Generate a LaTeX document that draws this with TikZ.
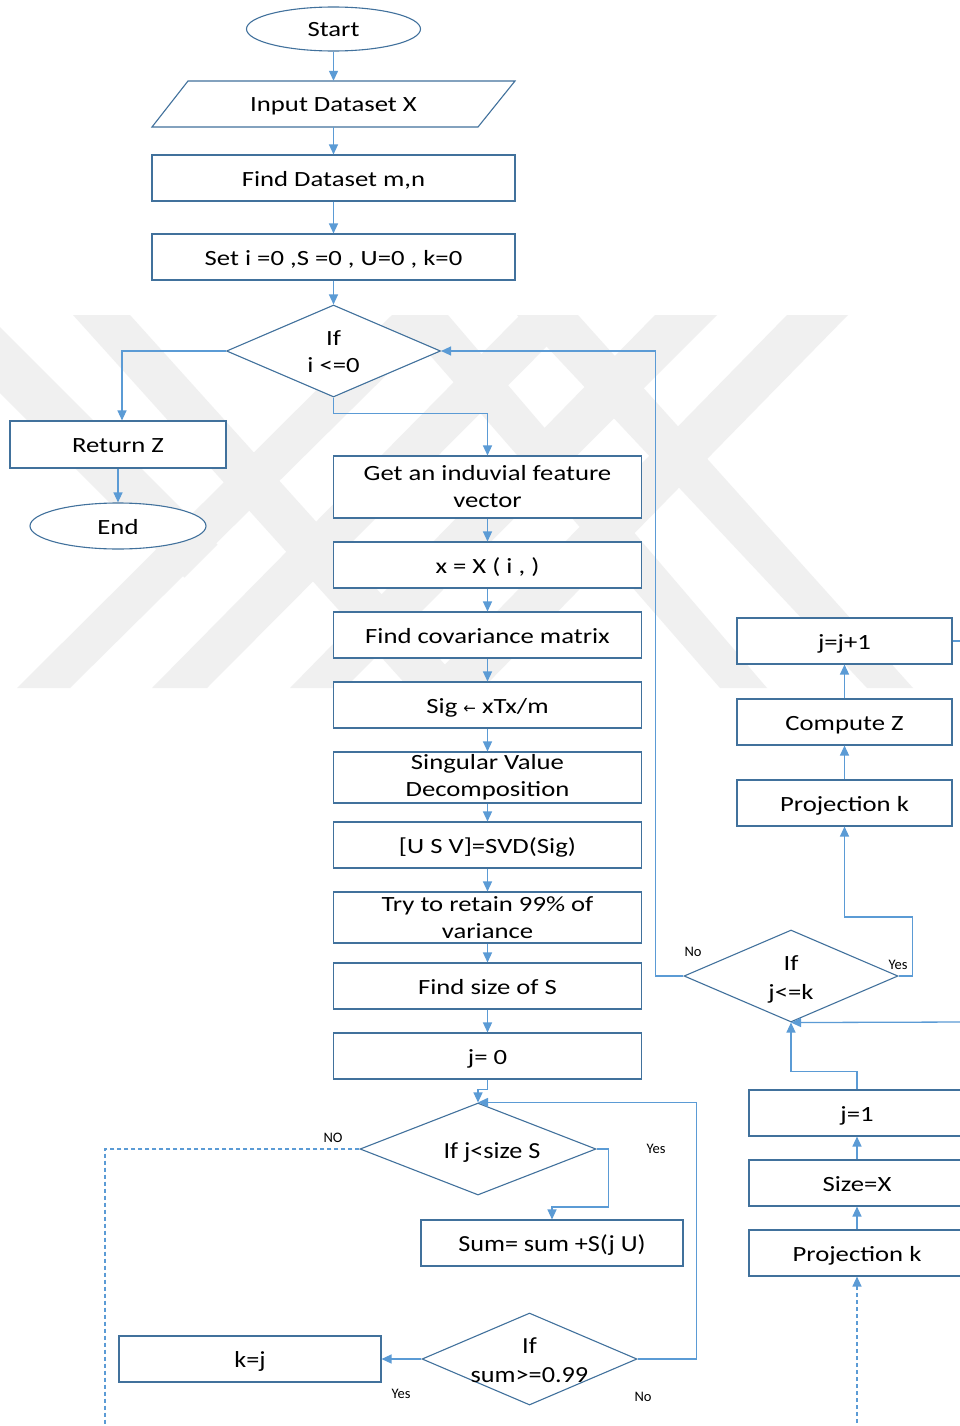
\documentclass[tikz,border=0pt]{standalone}
\usepackage{fontspec}
\setmainfont[FakeStretch=1.23]{Carlito}
\newfontfamily\lowfont[FakeStretch=1.14]{Carlito}
\newfontfamily\tagfont{Carlito}
\newfontfamily\symfont{DejaVu Sans}
\usetikzlibrary{shapes.geometric,arrows.meta}

\definecolor{edgeblue}{HTML}{41719C}
\definecolor{linkblue}{HTML}{5B9BD5}
\definecolor{markgrey}{HTML}{F0F0F0}

\begin{document}
\begin{tikzpicture}[x=1pt,y=-1pt,
  box/.style={draw=edgeblue, fill=white, line width=1.1pt, rectangle, inner sep=0pt,
              align=center, font=\fontsize{21.7}{27}\selectfont},
  oneline/.style={text height=18pt, text depth=2pt},
  lowbox/.style={box, font=\lowfont\fontsize{23}{28}\selectfont},
  term/.style={box, ellipse},
  test/.style={draw=edgeblue, fill=white, line width=1.1pt, diamond, inner sep=0pt},
  testtext/.style={align=center, font=\fontsize{21.7}{27}\selectfont},
  lowtext/.style={align=center, font=\lowfont\fontsize{23}{29}\selectfont},
  link/.style={draw=linkblue, line width=1.3pt, -{Triangle[length=10pt,width=9pt]}},
  plain/.style={draw=linkblue, line width=1.3pt},
  dashlink/.style={link, dash pattern=on 4pt off 3pt},
  tag/.style={font=\tagfont\fontsize{14.5}{14.5}\selectfont, inner sep=0pt},
]
\useasboundingbox (0,0) rectangle (960,1426);
\fill[white] (0,0) rectangle (960,1426);

% background emblem: diagonal grey stripes
\begin{scope}[markgrey]
  \fill (-78,315) -- (-12,315) -- (217.5,544.5) -- (184.5,577.5) -- cycle;
  \fill (73,315) -- (130,315) -- (466,688) -- (409,688) -- cycle;
  \fill (392,315) -- (447,315) -- (70,688) -- (17,688) -- cycle;
  \fill (395,315) -- (448,315) -- (767,688) -- (720,688) -- cycle;
  \fill (520,315) -- (578,315) -- (207,688) -- (152,688) -- cycle;
  \fill (517,315) -- (578,315) -- (913,688) -- (867,688) -- cycle;
  \fill (655,315) -- (717,315) -- (345,688) -- (290,688) -- cycle;
  \fill (787,315) -- (848,315) -- (483,688) -- (422,688) -- cycle;
\end{scope}

% ---- main column ----
\node[term, oneline, minimum width=174pt, minimum height=44pt] (start) at (333.5,29) {Start};

\draw[draw=edgeblue, fill=white, line width=1.1pt]
  (188,81) -- (515,81) -- (478,127) -- (152,127) -- cycle;
\node[inner sep=0pt, oneline, minimum width=300pt, minimum height=46pt,
      font=\fontsize{21.7}{27}\selectfont] (input) at (333.5,104) {Input Dataset X};

\node[box, oneline, minimum width=363pt, minimum height=46pt] (find) at (333.5,178) {Find Dataset m,n};
\node[box, oneline, minimum width=363pt, minimum height=46pt] (setv) at (333.5,257) {Set i =0 ,S =0 , U=0 , k=0};

\node[test, minimum width=214pt, minimum height=92pt] (testi) at (333.5,351) {};
\node[testtext] (testitext) at (333.5,352) {If\\i <=0};

\node[box, oneline, minimum width=216pt, minimum height=47pt] (retz) at (118,444.5) {Return Z};
\node[term, oneline, minimum width=176pt, minimum height=46pt] (endn) at (118,526) {End};

\node[box, minimum width=308pt, minimum height=62pt] (getv) at (487.5,487) {Get an induvial feature\\vector};
\node[box, oneline, minimum width=308pt, minimum height=46pt] (xrow) at (487.5,565) {x = X ( i , )};
\node[box, oneline, minimum width=308pt, minimum height=46pt] (cov) at (487.5,635) {Find covariance matrix};
\node[box, oneline, minimum width=308pt, minimum height=46pt] (sig) at (487.5,705)
  {Sig {\symfont\fontsize{15}{15}\selectfont ←} xTx/m};
\node[box, minimum width=308pt, minimum height=51pt] (svd) at (487.5,777.5) {Singular Value\\Decomposition};
\node[box, oneline, minimum width=308pt, minimum height=46pt] (usv) at (487.5,845) {[U S V]=SVD(Sig)};
\node[box, minimum width=308pt, minimum height=51pt] (retain) at (487.5,917.5) {Try to retain 99\% of\\variance};
\node[box, oneline, minimum width=308pt, minimum height=46pt] (sizes) at (487.5,986) {Find size of S};
\node[box, oneline, minimum width=308pt, minimum height=46pt] (jzero) at (487.5,1056) {j= 0};

\node[test, minimum width=236pt, minimum height=92pt] (testj) at (478,1149) {};
\node[lowtext, oneline] (testjtext) at (492,1150) {If j<size S};

\node[lowbox, oneline, minimum width=262pt, minimum height=46pt] (sumb) at (552,1243) {Sum= sum +S(j U)};

\node[test, minimum width=215pt, minimum height=92pt] (tests) at (529.5,1359) {};
\node[lowtext] (teststext) at (529.5,1360) {If\\sum>=0.99};

\node[lowbox, oneline, minimum width=262pt, minimum height=46pt] (kj) at (250,1359) {k=j};

% ---- right column ----
\node[box, oneline, minimum width=215pt, minimum height=46pt] (jinc) at (844.5,641) {j=j+1};
\node[box, oneline, minimum width=215pt, minimum height=46pt] (cz) at (844.5,722) {Compute Z};
\node[box, oneline, minimum width=215pt, minimum height=46pt] (proj) at (844.5,803) {Projection k};

\node[test, minimum width=214pt, minimum height=92pt] (testk) at (791,976) {};
\node[testtext, font=\fontsize{21.7}{29}\selectfont] (testktext) at (791,979) {If\\j<=k};

\node[box, oneline, minimum width=216pt, minimum height=46pt] (jone) at (857,1113) {j=1};
\node[box, oneline, minimum width=216pt, minimum height=46pt] (sizex) at (857,1183) {Size=X};
\node[box, oneline, minimum width=216pt, minimum height=46pt] (projb) at (857,1253) {Projection k};

% loose ends leaving the drawing area
\coordinate (noend) at (105,1430);
\coordinate (dashstart) at (857,1430);
\coordinate (fromright) at (965,1022);
\coordinate (toright) at (965,641);

% ---- connectors ----
\draw[link] (start) -- (input);
\draw[link] (input) -- (find);
\draw[link] (find) -- (setv);
\draw[link] (setv) -- (testi);
\draw[link] (testi.west) -| ([xshift=4pt]retz.north);
\draw[link] (retz) -- (endn);
\draw[link] (testi.south) -- ++(0,16) -| (getv.north);
\draw[link] (getv) -- (xrow);
\draw[link] (xrow) -- (cov);
\draw[link] (cov) -- (sig);
\draw[link] (sig) -- (svd);
\draw[link] (svd) -- (usv);
\draw[link] (usv) -- (retain);
\draw[link] (retain) -- (sizes);
\draw[link] (sizes) -- (jzero);
\draw[link] (jzero.south) -- ++(0,10) -| (testj.north);
\draw[link] (testj.east) -- ++(12,0) -- ++(0,58) -| (sumb.north);
\draw[plain, dash pattern=on 4pt off 3pt] (testj.west) -| (noend);
\draw[link] (tests.east) -- ++(59,0) |- (testj.north);
\draw[link] (tests.west) -- (kj.east);

\draw[dashlink] (dashstart) -- (projb.south);
\draw[link] (projb) -- (sizex);
\draw[link] (sizex) -- (jone);
\draw[link] (jone.north) -- ++(0,-18) -| (testk.south);
\draw[link] (fromright) -- (testk.south);
\draw[link] (testk.east) -- ++(14,0) -- ++(0,-59) -| (proj.south);
\draw[link] (proj) -- (cz);
\draw[link] (cz) -- (jinc);
\draw[plain] (jinc.east) -- (toright);
\draw[link] (testk.west) -- ++(-28,0) |- (testi.east);

% ---- branch labels ----
\node[tag] (lnok) at (693,952) {No};
\node[tag] (lyesk) at (898,965) {Yes};
\node[tag] (lnoj) at (333,1138) {NO};
\node[tag] (lyesj) at (656,1149) {Yes};
\node[tag] (lyess) at (401,1394) {Yes};
\node[tag] (lnos) at (643,1397) {No};
\end{tikzpicture}
\end{document}
